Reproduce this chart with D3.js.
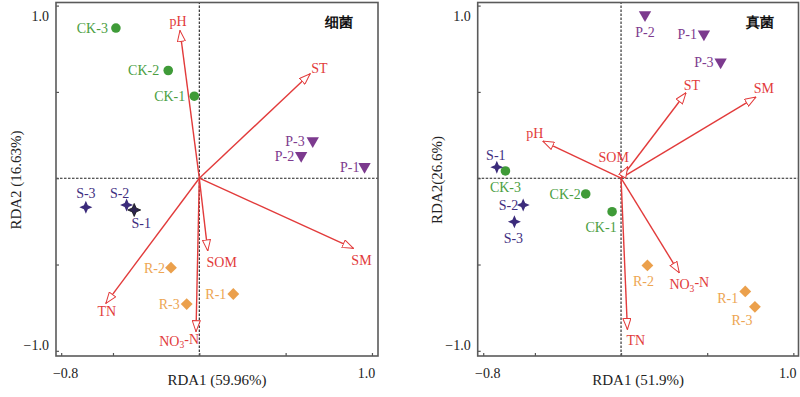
<!DOCTYPE html>
<html><head><meta charset="utf-8">
<script src="https://cdn.jsdelivr.net/npm/d3@7"></script>
<style>body{margin:0;background:#fff}svg{display:block}text{font-family:"Liberation Serif","Times New Roman",serif}</style>
</head><body><svg id="c" width="800" height="397"></svg>
<script>
// ---------- data ----------
const sampleNames = ["CK-1","CK-2","CK-3","P-1","P-2","P-3","S-1","S-2","S-3","R-1","R-2","R-3"];
const sampleGroups = ["CK","CK","CK","P","P","P","S","S","S","R","R","R"];
const bacX = [-0.029,-0.180,-0.483, 0.957, 0.590, 0.657,-0.377,-0.421,-0.657, 0.197,-0.164,-0.073];
const bacY = [ 0.475, 0.624, 0.870, 0.067, 0.131, 0.216,-0.184,-0.155,-0.168,-0.671,-0.518,-0.729];
const funX = [-0.052,-0.205,-0.671, 0.481, 0.139, 0.578,-0.721,-0.568,-0.619, 0.721, 0.153, 0.777];
const funY = [-0.194,-0.091, 0.042, 0.835, 0.947, 0.673, 0.064,-0.155,-0.252,-0.656,-0.505,-0.745];
const envNames = ["pH","ST","SM","SOM","TN","NO3-N"];
const bacEnvX = [-0.112, 0.642, 0.893, 0.049,-0.541,-0.019];
const bacEnvY = [ 0.856, 0.605,-0.406,-0.421,-0.725,-0.889];
const funEnvX = [-0.454, 0.377, 0.783, 0.039, 0.037, 0.338];
const funEnvY = [ 0.215, 0.495, 0.470, 0.067,-0.876,-0.548];
const tickValues = [-0.8,-0.5,0,0.5,1.0];
const tickLabelsX = ["\u22120.8","1.0"];
const tickLabelsY = ["1.0","\u22121.0"];

// ---------- styles / layout ----------
const groupColor = {CK:"#3f9b38", P:"#7c3a8e", S:"#3b2b7b", R:"#eba04c"};
const labelColor = {CK:"#4b9e3f", P:"#7e3b8e", S:"#3f2f7f", R:"#eda552"};
const red = "#e23b3b";

const panels = [
  {title:"细菌", xs:bacX, ys:bacY, ex:bacEnvX, ey:bacEnvY,
   xr:[56,378], yr:[356,2.5], xd:[-0.83,1.035], yd:[-1.03,1.018],
   xlab:"RDA1 (59.96%)", ylab:"RDA2 (16.63%)", ylabX:16,
   sOff:{"CK-1":[-9,0,"end"],"CK-2":[-9,0,"end"],"CK-3":[-8,0,"end"],"P-1":[-5,0,"end"],"P-2":[-7,0,"end"],"P-3":[-8,0,"end"],
         "S-1":[7,13,"middle"],"S-2":[-7,-12,"middle"],"S-3":[0,-14,"middle"],"R-1":[-7,0,"end"],"R-2":[-6,0,"end"],"R-3":[-7,0,"end"]},
   eOff:{"pH":[-2,-9,"middle"],"ST":[1,-6,"start"],"SM":[8,12,"middle"],"SOM":[14,11,"middle"],"TN":[1,8,"middle"],"NO3-N":[3,9,"end"]},
   darkS1:true, tx:339},
  {title:"真菌", xs:funX, ys:funY, ex:funEnvX, ey:funEnvY,
   xr:[477.7,798.5], yr:[356,2.5], xd:[-0.832,1.03], yd:[-1.03,1.018],
   xlab:"RDA1 (51.9%)", ylab:"RDA2(26.6%)", ylabX:437,
   sOff:{"CK-1":[-11,15,"middle"],"CK-2":[-5,0,"end"],"CK-3":[0,16,"middle"],"P-1":[-7,0,"end"],"P-2":[0,17,"middle"],"P-3":[-7,0,"end"],
         "S-1":[-1,-12,"middle"],"S-2":[-5,0,"end"],"S-3":[-1,16.5,"middle"],"R-1":[-7,7,"end"],"R-2":[-4,16,"middle"],"R-3":[-13,13,"middle"]},
   eOff:{"pH":[-8,-8,"middle"],"ST":[6,-8,"middle"],"SM":[8,-9,"middle"],"SOM":[-14,-10,"middle"],"TN":[-1,11,"start"],"NO3-N":[10,11,"middle"]},
   darkS1:false, tx:760}
];

const star4 = {draw(ctx,size){const r=Math.sqrt(size)*0.62, q=r*0.3;
  ctx.moveTo(0,-r);ctx.lineTo(q,-q);ctx.lineTo(r,0);ctx.lineTo(q,q);ctx.lineTo(0,r);ctx.lineTo(-q,q);ctx.lineTo(-r,0);ctx.lineTo(-q,-q);ctx.closePath();}};
const symFor = {CK:d3.symbol(d3.symbolCircle,72), P:d3.symbol(d3.symbolTriangle,66), S:d3.symbol(star4,110), R:d3.symbol(d3.symbolSquare,70)};
const rotFor = {CK:0, P:180, S:0, R:45};

const svg = d3.select("#c");
svg.append("defs").append("marker").attr("id","ah").attr("markerUnits","userSpaceOnUse")
  .attr("viewBox","0 0 12 9").attr("refX",11.5).attr("refY",4.5).attr("markerWidth",12).attr("markerHeight",9)
  .attr("orient","auto").append("path").attr("d","M0.5,0.5 L11.5,4.5 L0.5,8.5 Z")
  .attr("fill","#fff").attr("stroke",red).attr("stroke-width",1);

function addText(g,x,y,str,color,anchor,size){
  const t=g.append("text").attr("x",x).attr("y",y).attr("dy","0.35em").attr("text-anchor",anchor)
    .attr("fill",color).attr("font-size",size);
  if(str==="NO3-N"){t.append("tspan").text("NO");t.append("tspan").text("3").attr("font-size",size*0.68).attr("dy","0.3em");
    t.append("tspan").text("-N").attr("dy","-0.3em");}
  else t.text(str);
  return t;
}

panels.forEach(p=>{
  const x=d3.scaleLinear().domain(p.xd).range(p.xr);
  const y=d3.scaleLinear().domain(p.yd).range(p.yr);
  const g=svg.append("g");
  // zero lines
  g.append("line").attr("x1",p.xr[0]).attr("x2",p.xr[1]).attr("y1",y(0)).attr("y2",y(0))
    .attr("stroke","#222").attr("stroke-width",1.1).attr("stroke-dasharray","2.5,1.5");
  g.append("line").attr("x1",x(0)).attr("x2",x(0)).attr("y1",p.yr[0]).attr("y2",p.yr[1])
    .attr("stroke","#222").attr("stroke-width",1.1).attr("stroke-dasharray","2.5,1.5");
  // axes ticks (inside)
  g.append("g").attr("transform",`translate(0,${p.yr[0]})`)
    .call(d3.axisBottom(x).tickValues(tickValues).tickSize(-3).tickFormat(""))
    .call(a=>{a.select(".domain").remove();a.selectAll("line").attr("stroke","#555").attr("stroke-width",1.2);});
  g.append("g").attr("transform",`translate(${p.xr[0]},0)`)
    .call(d3.axisLeft(y).tickValues(tickValues.filter(v=>v!==-0.8).concat([-1.0])).tickSize(-3).tickFormat(""))
    .call(a=>{a.select(".domain").remove();a.selectAll("line").attr("stroke","#555").attr("stroke-width",1.2);});
  // frame
  g.append("rect").attr("x",p.xr[0]).attr("y",p.yr[1]).attr("width",p.xr[1]-p.xr[0]).attr("height",p.yr[0]-p.yr[1])
    .attr("fill","none").attr("stroke","#5a5a5a").attr("stroke-width",1.6);
  // tick labels
  addText(g,x(-0.8)+4.5,p.yr[0]+17,tickLabelsX[0],"#222","middle",14);
  addText(g,x(1.0)-5.5,p.yr[0]+17,tickLabelsX[1],"#222","middle",14);
  addText(g,p.xr[0]-7,y(1.0)+10,tickLabelsY[0],"#222","end",14);
  addText(g,p.xr[0]-7,y(-1.0)-6,tickLabelsY[1],"#222","end",14);
  // axis titles
  addText(g,(p.xr[0]+p.xr[1])/2,380,p.xlab,"#222","middle",15);
  g.append("text").attr("transform",`translate(${p.ylabX},180) rotate(-90)`).attr("text-anchor","middle")
    .attr("dy","0.35em").attr("font-size",15).attr("fill","#222").text(p.ylab);
  // title
  g.append("text").attr("x",p.tx).attr("y",22).attr("dy","0.35em").attr("text-anchor","middle")
    .attr("font-family","'Noto Sans CJK SC',sans-serif").attr("font-weight","bold").attr("font-size",14).attr("fill","#111").text(p.title);
  // arrows
  envNames.forEach((n,i)=>{
    g.append("line").attr("x1",x(0)).attr("y1",y(0)).attr("x2",x(p.ex[i])).attr("y2",y(p.ey[i]))
      .attr("stroke",red).attr("stroke-width",1.4).attr("marker-end","url(#ah)");
    const o=p.eOff[n];
    addText(g,x(p.ex[i])+o[0],y(p.ey[i])+o[1],n,red,o[2],14);
  });
  // samples
  sampleNames.forEach((n,i)=>{
    const grp=sampleGroups[i];
    const dark = p.darkS1 && n==="S-1";
    const path=g.append("path").attr("d",symFor[grp]())
      .attr("transform",`translate(${x(p.xs[i])},${y(p.ys[i])}) rotate(${rotFor[grp]})`)
      .attr("fill",dark?"#2c2450":groupColor[grp]);
    if(dark) path.attr("stroke","#111").attr("stroke-width",0.8);
    const o=p.sOff[n];
    addText(g,x(p.xs[i])+o[0],y(p.ys[i])+o[1],n,labelColor[grp],o[2],14);
  });
});
</script></body></html>
